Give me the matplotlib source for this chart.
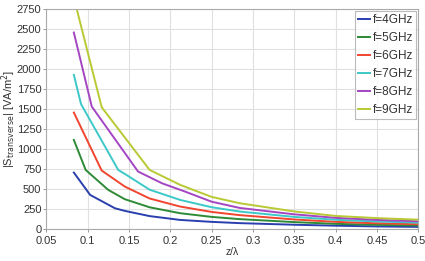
import matplotlib
matplotlib.use("Agg")
import matplotlib.pyplot as plt

# values (z/lambda, |S| in VA/m^2)
x_4 = [0.0833, 0.103, 0.133, 0.145, 0.175, 0.212, 0.25, 0.284, 0.35, 0.4, 0.45, 0.5]
s_4 = [704, 425, 258, 225, 160, 112, 88, 72, 52, 40, 31, 25]
x_5 = [0.0833, 0.0976, 0.125, 0.145, 0.175, 0.212, 0.25, 0.284, 0.35, 0.4, 0.45, 0.5]
s_5 = [1112, 737, 487, 371, 270, 196, 150, 122, 85, 63, 51, 42]
x_6 = [0.0833, 0.117, 0.145, 0.175, 0.212, 0.25, 0.284, 0.35, 0.4, 0.45, 0.5]
s_6 = [1454, 729, 529, 380, 279, 212, 172, 118, 88, 70, 58]
x_7 = [0.0833, 0.092, 0.137, 0.145, 0.175, 0.212, 0.25, 0.284, 0.35, 0.4, 0.45, 0.5]
s_7 = [1925, 1560, 737, 687, 490, 362, 271, 217, 150, 114, 93, 78]
x_8 = [0.0833, 0.105, 0.161, 0.19, 0.218, 0.25, 0.284, 0.35, 0.4, 0.45, 0.5]
s_8 = [2454, 1529, 717, 570, 466, 340, 262, 182, 138, 112, 95]
x_9 = [0.0833, 0.117, 0.175, 0.212, 0.25, 0.284, 0.35, 0.4, 0.45, 0.5]
s_9 = [2890, 1521, 737, 550, 400, 321, 218, 162, 135, 115]

labels = ["f=4GHz", "f=5GHz", "f=6GHz", "f=7GHz", "f=8GHz", "f=9GHz"]
colors = ["#2a3fae", "#2d8a36", "#f0452f", "#3cc8c8", "#a445c2", "#b9c934"]
series = [(x_4, s_4), (x_5, s_5), (x_6, s_6), (x_7, s_7), (x_8, s_8), (x_9, s_9)]

plt.rcParams["font.family"] = ["Liberation Sans", "DejaVu Sans"]

fig = plt.figure(figsize=(4.25, 2.61), dpi=100)
ax = fig.add_axes([0.109, 0.123, 0.875, 0.843])

for (xs, ys), lab, c in zip(series, labels, colors):
    ax.plot(xs, ys, color=c, linewidth=1.4, label=lab)

ax.set_xlim(0.05, 0.5)
ax.set_ylim(0, 2750)
ax.set_xticks([0.05, 0.1, 0.15, 0.2, 0.25, 0.3, 0.35, 0.4, 0.45, 0.5])
ax.set_xticklabels(["0.05", "0.1", "0.15", "0.2", "0.25", "0.3", "0.35", "0.4", "0.45", "0.5"])
ax.set_yticks(range(0, 2751, 250))
ax.grid(True, color="#e0e0e0", linewidth=0.8)
ax.set_axisbelow(True)
ax.tick_params(length=2, width=0.6, colors="#888888", labelcolor="#333333",
               labelsize=8, pad=1.5)
ax.tick_params(axis="x", pad=3)
for sp in ax.spines.values():
    sp.set_color("#aaaaaa")
    sp.set_linewidth(0.8)

ax.set_xlabel("z/λ", fontsize=7.5, color="#333333", labelpad=1)
ax.set_ylabel(r"|S$_{\mathrm{transverse}}$| [VA/m$^2$]", fontsize=8,
              color="#333333")
ax.yaxis.set_label_coords(-0.076, 0.5)

leg = ax.legend(loc="upper right", fontsize=8.5, frameon=True, fancybox=False,
                handlelength=1.0, handletextpad=0.2, borderpad=0.3,
                labelspacing=0.5, borderaxespad=0.15)
leg.get_frame().set_edgecolor("#aaaaaa")
leg.get_frame().set_linewidth(0.8)
for t in leg.get_texts():
    t.set_color("#333333")

fig.savefig("out.png", dpi=100)
